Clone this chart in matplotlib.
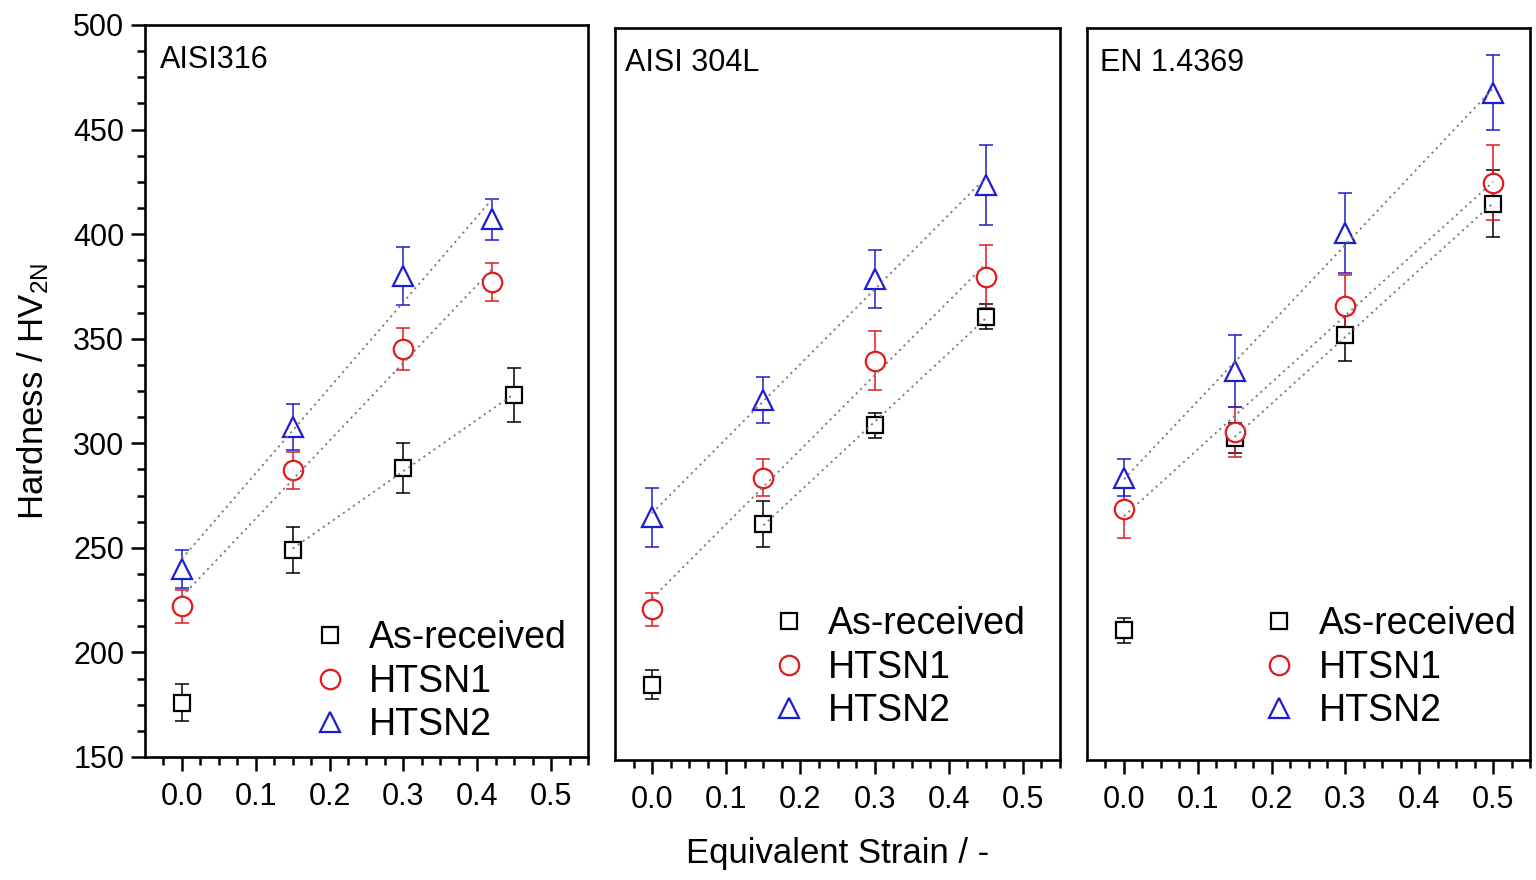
import numpy as np
import matplotlib
matplotlib.use("Agg")
import matplotlib.pyplot as plt

plt.rcParams['font.family'] = ['Liberation Sans', 'DejaVu Sans']
plt.rcParams['mathtext.fontset'] = 'custom'
plt.rcParams['mathtext.rm'] = 'Liberation Sans'
plt.rcParams['mathtext.default'] = 'regular'

# hardness values per steel grade (strain, mean, std)
materials = ["AISI316", "AISI 304L", "EN 1.4369"]
series = ["As-received", "HTSN1", "HTSN2"]

strain_316 = [[0.0, 0.15, 0.30, 0.45], [0.0, 0.15, 0.30, 0.42], [0.0, 0.15, 0.30, 0.42]]
hv_316 = [[176, 249, 288, 323], [222, 287, 345, 377], [240, 308, 380, 407]]
err_316 = [[9, 11, 12, 13], [8, 9, 10, 9], [9, 11, 14, 10]]

strain_304 = [[0.0, 0.15, 0.30, 0.45], [0.0, 0.15, 0.30, 0.45], [0.0, 0.15, 0.30, 0.45]]
hv_304 = [[186, 263, 310, 362], [222, 285, 341, 381], [266, 322, 380, 425]]
err_304 = [[7, 11, 6, 6], [8, 9, 14, 15], [14, 11, 14, 19]]

strain_4369 = [[0.0, 0.15, 0.30, 0.50], [0.0, 0.15, 0.30, 0.50], [0.0, 0.15, 0.30, 0.50]]
hv_4369 = [[212, 304, 353, 416], [270, 307, 367, 426], [285, 336, 402, 469]]
err_4369 = [[6, 7, 12, 16], [14, 12, 15, 18], [9, 17, 19, 18]]

# first point used for the linear fit (as-received fit skips the unstrained state)
fit_start = [1, 0, 0]

colors = ['black', '#e3191c', '#1c1cd0']
markers = ['s', 'o', '^']
msizes = [12, 14, 15]

strains = [strain_316, strain_304, strain_4369]
hvs = [hv_316, hv_304, hv_4369]
errs = [err_316, err_304, err_4369]

fig = plt.figure(figsize=(15.36, 8.8), dpi=100)
boxes = [[0.0944, 0.1398, 0.2884, 0.8318],
         [0.4004, 0.1364, 0.2897, 0.8318],
         [0.7077, 0.1364, 0.2884, 0.8318]]
label_x = [0.034, 0.022, 0.03]
leg_anchor = [(0.32, -0.012), (0.294, 0.011), (0.337, 0.011)]

for p in range(3):
    ax = fig.add_axes(boxes[p])
    for s in range(3):
        x = np.array(strains[p][s])
        y = np.array(hvs[p][s])
        e = np.array(errs[p][s])
        ax.errorbar(x, y, yerr=e, fmt='none', ecolor=colors[s], elinewidth=1.1,
                    capsize=5, capthick=1.1, zorder=2)
        ax.plot(x, y, linestyle='none', marker=markers[s], ms=msizes[s], mfc='white',
                mec=colors[s], mew=1.6, label=series[s], zorder=3)
        i0 = fit_start[s]
        k, b = np.polyfit(x[i0:], y[i0:], 1)
        xf = np.array([x[i0], x[-1]])
        ax.plot(xf, k * xf + b, linestyle=(0, (1.2, 2.2)), color='#7a7a7a', lw=1.3, zorder=4)

    ax.set_xlim(-0.05, 0.55)
    ax.set_ylim(150, 500)
    ax.set_xticks(np.arange(0, 0.51, 0.1))
    ax.set_xticks(np.arange(-0.025, 0.551, 0.025), minor=True)
    ax.set_xticklabels(['0.0', '0.1', '0.2', '0.3', '0.4', '0.5'])
    ax.tick_params(axis='x', which='major', direction='out', length=10, width=1.8,
                   labelsize=22, pad=8, top=False)
    ax.tick_params(axis='x', which='minor', direction='out', length=6, width=1.8, top=False)
    if p == 0:
        ax.set_yticks(np.arange(150, 501, 50))
        ax.set_yticks(np.arange(150, 501, 12.5), minor=True)
        ax.tick_params(axis='y', which='major', direction='out', length=10, width=1.8,
                       labelsize=22, pad=5, right=False)
        ax.tick_params(axis='y', which='minor', direction='out', length=6, width=1.8, right=False)
        ax.set_ylabel(r'Hardness / HV$_{2N}$', fontsize=25, labelpad=16)
    else:
        ax.set_yticks([])
    for sp in ax.spines.values():
        sp.set_linewidth(1.9)

    ax.text(label_x[p], 0.952, materials[p], transform=ax.transAxes, fontsize=22,
            ha='left', va='center')
    ax.legend(loc='lower left', bbox_to_anchor=leg_anchor[p], frameon=False, fontsize=27,
              handletextpad=0.5, labelspacing=0.2, borderaxespad=0.2, handlelength=1.1)

fig.text(0.545, 0.03, 'Equivalent Strain / -', fontsize=25, ha='center', va='center')

fig.savefig('out.png', dpi=100)
